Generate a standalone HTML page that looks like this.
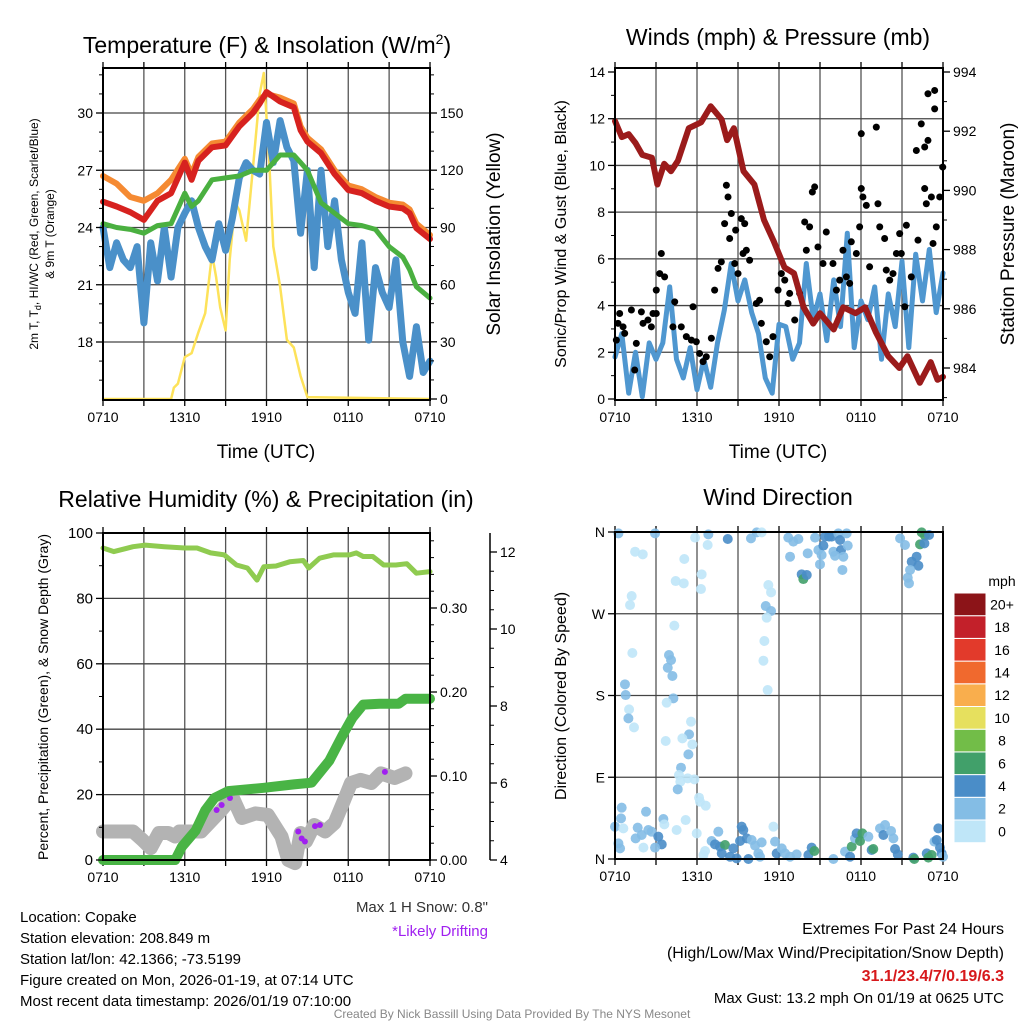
<!DOCTYPE html>
<html><head><meta charset="utf-8"><style>
body{margin:0;background:#fff;}
svg{display:block;font-family:"Liberation Sans",Arial,sans-serif;}
</style></head><body>
<svg id="root" width="1024" height="1024" viewBox="0 0 1024 1024">
<rect width="1024" height="1024" fill="#fff"/>
<g id="g1"></g>
<g id="g2"></g>
<g id="g3"></g>
<g id="g4"></g>
<text x="267" y="53" font-size="23" text-anchor="middle">Temperature (F) &amp; Insolation (W/m<tspan font-size="14" dy="-9">2</tspan><tspan dy="9">)</tspan></text>
<text x="778" y="45" font-size="23" text-anchor="middle">Winds (mph) &amp; Pressure (mb)</text>
<text x="266" y="507" font-size="23" text-anchor="middle">Relative Humidity (%) &amp; Precipitation (in)</text>
<text x="778" y="505" font-size="23" text-anchor="middle">Wind Direction</text>
<g font-size="15">
<text x="20" y="922">Location: Copake</text>
<text x="20" y="943">Station elevation: 208.849 m</text>
<text x="20" y="964">Station lat/lon: 42.1366; -73.5199</text>
<text x="20" y="985">Figure created on Mon, 2026-01-19, at 07:14 UTC</text>
<text x="20" y="1006">Most recent data timestamp: 2026/01/19 07:10:00</text>
</g>
<text x="488" y="912" font-size="15" text-anchor="end" fill="#333">Max 1 H Snow: 0.8"</text>
<text x="488" y="936" font-size="15" text-anchor="end" fill="#a020f0">*Likely Drifting</text>
<g font-size="16" text-anchor="end">
<text x="1004" y="934">Extremes For Past 24 Hours</text>
<text x="1004" y="958">(High/Low/Max Wind/Precipitation/Snow Depth)</text>
<text x="1004" y="981" fill="#d7191c" font-weight="bold">31.1/23.4/7/0.19/6.3</text>
<text x="1004" y="1003" font-size="15">Max Gust: 13.2 mph On 01/19 at 0625 UTC</text>
</g>
<text x="512" y="1018" font-size="12" text-anchor="middle" fill="#888">Created By Nick Bassill Using Data Provided By The NYS Mesonet</text>
</svg>
<script>
// ---------- data ----------
const timeLabels=["0710","1310","1910","0110","0710"];
const tHalf=[0,0.5,1,1.5,2,2.5,3,3.5,4,4.5,5,5.5,6,6.5,7,7.5,8,8.5,9,9.5,10,10.5,11,11.5,12,12.5,13,13.5,14,14.5,15,15.5,16,16.5,17,17.5,18,18.5,19,19.5,20,20.5,21,21.5,22,22.5,23,23.5,24];
const tHour=[0,1,2,3,4,5,6,6.5,7,8,9,10,11,11.5,12,13,14,14.5,15,16,17,18,19,20,21,22,22.5,23,24];
const tempRed=[25.35,25.1,24.8,24.4,25.4,25.8,27.4,26.5,27.5,28.2,28.3,29.3,30.0,30.5,31.1,30.6,30.3,29.1,28.5,27.9,26.8,25.96,25.8,25.4,25.1,25.0,24.75,23.97,23.4];
const tempOrange=[26.7,26.3,25.6,25.4,25.8,26.5,27.6,26.8,27.7,28.4,28.5,29.5,30.2,30.7,31.0,30.8,30.5,29.3,28.7,28.1,27.0,26.2,26.0,25.6,25.3,25.2,24.95,24.2,23.6];
const tempGreen=[24.2,24.0,23.9,23.7,24.1,24.2,25.8,25.1,25.4,26.5,26.6,26.7,27.0,27.0,27.0,27.8,27.8,27.4,27.0,25.3,24.75,24.2,24.1,23.9,23.0,22.45,21.8,20.9,20.3];
const tempBlue=[24.0,21.9,23.2,22.3,21.9,23.0,19.0,23.2,21.2,24.0,21.4,24.0,24.75,25.4,24.0,23.0,22.3,24.2,22.8,24.5,26.6,27.4,27.0,26.8,29.5,27.4,29.6,28.2,27.5,23.7,27.0,21.9,27.0,23.0,25.4,22.3,20.6,19.5,23.2,18.1,21.9,20.6,19.8,22.3,18.0,16.2,18.8,16.4,17.0];
const insolT=[0,5,5.2,5.5,6,6.5,7,7.5,8,8.3,8.6,9,9.3,9.7,10,10.5,11,11.5,11.8,12.2,12.5,13,13.5,14,14.5,15,24];
const insolV=[0,0,6,8,22,24,35,45,76,64,48,36,73,103,99,83,121,160,171,125,80,59,31,27,12,1,0];
const tempTicks=[18,21,24,27,30];
const insolTicks=[0,30,60,90,120,150];

const pressT=[0,0.5,1,1.5,2,2.7,3.1,3.6,4.1,4.6,5.4,6.3,7.0,7.8,8.2,8.7,9.4,10.2,10.9,11.6,12.4,13.1,13.8,14.5,15.0,16.0,16.7,17.6,18.3,19.1,20.0,20.8,21.4,22.3,23.1,23.6,24];
const pressV=[992.34,991.8,991.9,991.6,991.2,991.1,990.2,990.9,990.65,991.0,992.1,992.3,992.84,992.4,991.7,992.1,990.65,990.2,989.0,988.3,987.4,987.2,986.05,985.5,985.85,985.3,986.05,985.85,986.05,985.2,984.4,984.0,984.4,983.5,984.2,983.6,983.7];
const windSonic=[1.8,2.8,0.25,2.0,0.1,2.4,1.7,2.4,4.8,1.7,0.9,2.2,0.4,1.7,0.5,2.4,3.8,5.8,4.2,5.1,3.7,2.8,0.9,0.25,3.2,3.1,1.7,2.4,5.8,3.4,4.5,2.5,5.1,3.1,7.1,2.2,4.2,3.4,4.8,1.7,4.5,3.1,5.9,2.2,6.2,4.2,6.4,3.7,5.4];
const gustT=[0.10,0.22,0.34,0.59,0.71,1.20,1.56,1.44,1.93,2.05,2.41,2.66,2.78,3.02,3.39,3.27,3.63,3.02,4.37,4.24,4.85,5.22,5.71,5.59,5.95,6.19,6.44,6.68,7.05,7.29,7.54,7.78,8.15,8.27,8.02,8.51,8.39,8.83,8.76,9.00,9.24,9.49,9.61,9.37,9.85,10.34,10.58,10.71,11.07,11.32,11.56,11.93,12.17,12.42,12.66,12.78,13.15,13.51,13.88,14.00,14.24,14.44,14.61,14.85,15.22,15.46,15.95,16.20,16.44,16.68,16.93,17.17,17.29,17.66,17.90,18.02,18.02,18.14,18.39,18.63,19.12,19.24,19.37,19.73,19.85,20.10,20.34,20.59,20.83,20.95,21.20,21.32,21.68,22.05,22.17,22.41,22.66,22.78,22.90,23.15,23.39,23.39,23.51,23.76,23.98,22.90,22.66,23.27];
const gustV=[2.52,3.24,3.66,3.09,2.81,3.81,2.38,1.24,3.73,3.24,3.38,3.09,3.66,3.66,6.23,5.37,5.23,4.66,4.16,3.09,3.09,2.67,3.95,2.52,2.45,1.95,1.60,1.81,2.60,4.66,5.59,5.87,9.15,8.65,7.51,7.94,6.87,7.23,5.80,5.37,7.72,7.51,6.37,6.23,5.94,4.09,4.23,3.24,2.45,1.81,2.67,4.66,5.37,5.09,4.09,4.52,3.38,4.52,7.58,6.37,7.37,8.86,9.08,6.51,5.80,7.15,5.80,4.66,5.09,6.37,5.23,4.95,6.73,6.23,7.37,11.36,9.01,8.65,8.29,5.66,11.64,8.36,7.37,6.87,5.52,5.09,5.37,6.23,7.08,6.23,3.95,7.44,5.23,10.64,6.80,11.78,9.01,8.36,11.07,8.65,13.21,12.42,7.37,8.65,9.93,13.07,10.79,6.66];
const windTicks=[0,2,4,6,8,10,12,14];
const pressTicks=[984,986,988,990,992,994];

const rhT=[0,0.8,2.2,3.1,4.5,6,6.9,7.9,8.9,9.8,10.6,11.3,11.8,12.7,13.7,14.7,15.1,15.9,16.9,18.1,18.6,19.1,19.8,20.6,21.5,22.3,23,24];
const rhV=[95.4,94.3,95.8,96.3,95.8,95.4,95.4,93.9,93.3,90.2,89.3,85.6,89.7,89.9,91.2,91.6,89.3,92.3,93.3,93.3,93.9,92.8,92.8,90.2,90.2,90.6,87.7,88.2];
const precipT=[0,5.3,5.8,6.8,7.5,8.2,9.2,11.8,14,15.3,16.6,17.6,18.3,19.1,20.3,21.7,22.2,24];
const precipV=[0,0,0.016,0.035,0.059,0.074,0.082,0.086,0.09,0.092,0.118,0.149,0.169,0.185,0.186,0.186,0.192,0.192];
const snowT=[0,2.2,2.9,3.5,4.1,4.8,5.3,5.6,6.5,7.2,8,8.7,9.5,10.2,11.2,12.1,13.1,13.6,14.1,14.5,14.9,15.5,16.3,17,17.7,18.2,18.9,19.7,20.4,21.4,22.2];
const snowV=[4.74,4.74,4.52,4.31,4.70,4.70,4.61,4.74,4.74,4.74,5.04,5.30,5.64,5.09,5.21,5.17,4.61,4.0,3.92,4.70,4.48,4.91,4.74,4.96,5.56,6.0,6.08,6.0,6.25,6.13,6.25];
const driftT=[8.34,8.71,9.32,14.33,14.58,14.82,15.56,15.92,20.69];
const driftV=[5.30,5.43,5.61,4.74,4.56,4.48,4.88,4.91,6.29];
const rhTicks=[0,20,40,60,80,100];
const precipTicks=[0,0.1,0.2,0.3];
const precipLabels=["0.00","0.10","0.20","0.30"];
const snowTicks=[4,6,8,10,12];

const dirT=[0.25,2.93,5.86,6.83,6.78,8.25,9.95,10.37,10.73,12.68,
13.05,13.42,12.81,13.66,13.78,14.03,14.1,14.64,14.88,15.0,
15.25,15.37,15.66,15.86,15.98,16.34,16.47,16.54,16.71,16.64,
16.95,17.03,15.12,16.1,20.86,21.22,21.71,22.07,22.2,21.59,
21.42,21.51,22.44,22.68,22.32,22.64,22.98,
1.47,2.03,5.07,4.44,5.03,6.34,6.29,1.22,1.10,11.22,
11.42,11.03,11.42,11.10,4.34,1.27,10.93,10.86,11.17,3.95,
4.10,3.86,4.20,0.73,0.78,4.27,3.78,1.03,0.98,1.39,
5.56,5.42,4.93,3.71,5.66,5.37,4.83,4.68,5.32,5.81,
4.78,4.59,6.15,6.22,6.64,
0.49,0.44,0.0,0.61,2.27,3.54,3.61,5.17,4.51,1.66,
1.95,2.44,2.68,1.51,2.08,0.25,0.37,3.17,3.42,2.93,
5.98,6.59,6.47,7.56,7.07,7.32,7.68,8.05,7.81,8.42,
8.66,9.27,9.39,9.64,9.15,8.90,9.76,10.0,10.25,10.49,
10.61,10.73,11.59,11.71,11.83,12.2,12.44,12.81,13.29,14.15,
14.39,14.59,15.98,16.83,17.2,17.32,17.56,17.68,17.93,18.1,
18.54,18.78,18.9,19.39,19.64,19.76,20.2,20.37,20.49,20.69,
21.83,21.9,22.81,22.93,23.17,23.37,23.54,23.66,23.78,23.9,
24.0];
const dirV=[358.5,358.5,353.8,357.4,345.7,352.3,353,359.6,359.6,353.8,
349.4,352.3,332.8,313.4,308.2,312.7,336.5,353.8,340.2,324.4,
345,354.9,354.9,354.9,338.3,358.5,351.2,340.2,332.8,318.2,
358.5,345,334.7,333.9,353,345.7,327.3,332.8,322.9,318.2,
309.7,303.5,359.6,356,346.4,347.5,356.7,
338.3,335.4,330.3,306,303.5,313.4,297.2,289.5,279.6,301.6,
293.6,278.5,273,265.7,256.9,226.8,240,218.3,186,224.6,
219,210.6,201.5,192.3,180.5,176.9,172.1,164.7,154.8,144.9,
151.2,137.2,132.8,129.9,126.2,115.2,100.5,92.5,88.8,87.7,
85.1,76.7,67.5,63.1,58.7,
56.5,44.7,35.6,33.7,52.1,44,38.1,42.9,31.9,34.5,
26.4,31.9,30.1,22.7,12.5,17.2,11.7,24.6,16.1,12.5,
28.2,8.8,4.4,30.1,19.8,16.1,13.6,15.4,6.2,2.5,
11.7,35.6,31.9,22.7,19.8,0.7,0,20.9,14.7,6.2,
2.5,18.3,35.6,19.1,6.2,11.7,6.2,2.5,5.1,4.4,
12.5,8.8,0,8.1,2.5,13.6,22.7,28.2,19.8,28.2,
24.6,9.9,11,33.7,26.4,37.4,30.8,22.7,11,5.1,
1.5,0,6.2,1.5,4.4,19.1,20.9,33.7,12.5,6.2,
2.5];
const dirSpeed=[3,3,1,3,1,5,3,3,1,3,
3,3,3,5,7,5,3,3,3,3,
5,5,5,5,3,3,5,5,3,3,
3,3,3,3,3,3,5,5,5,3,
3,3,7,7,7,5,5,
1,1,1,1,1,1,1,1,1,1,
1,3,3,1,1,1,1,1,1,3,
3,3,3,3,3,3,1,1,3,1,
1,3,1,1,1,3,3,1,1,1,
1,3,1,1,1,
3,3,3,1,3,3,1,1,1,3,
3,3,3,3,1,3,3,5,5,3,
1,1,1,3,3,5,5,7,5,5,
5,5,5,5,5,5,5,3,3,3,
3,3,1,3,5,3,3,3,3,5,
5,7,3,3,5,7,3,5,7,7,
3,5,7,3,5,3,3,3,5,5,
5,7,5,7,7,3,5,5,5,5,
3];
const dirLabels=["N","E","S","W","N"];
const cbarLabels=["0","2","4","6","8","10","12","14","16","18","20+"];
const cbarColors=["#bfe6f8","#84bde5","#4a8dc8","#41a06a","#72bd48","#e6e05e","#f9ae4d","#f0692e","#e23a2b","#c3202a","#8c1418"];

// ---------- helpers ----------
const NS="http://www.w3.org/2000/svg";
function mk(parent,tag,attrs){const e=document.createElementNS(NS,tag);for(const k in attrs)e.setAttribute(k,attrs[k]);parent.appendChild(e);return e;}
function lin(d0,d1,r0,r1){return v=>r0+(v-d0)/(d1-d0)*(r1-r0);}
function pathFrom(xs,ys,fx,fy){return xs.map((t,i)=>(i?"L":"M")+fx(t).toFixed(1)+","+fy(ys[i]).toFixed(1)).join("");}

function frame(g,L,T,R,B,hTicksY){
  const sx=lin(0,24,L,R);
  for(let h=3;h<24;h+=3){const l=mk(g,"line",{x1:sx(h),x2:sx(h),y1:T,y2:B,stroke:"#555","stroke-width":1.3});
  
  }
  hTicksY.forEach(y=>{const l=mk(g,"line",{x1:L,x2:R,y1:y,y2:y,stroke:"#444","stroke-width":1.3});
  
  });
  for(let h=0;h<=24;h+=3){const tk=mk(g,"line",{x1:sx(h),x2:sx(h),y1:B,y2:B+6,stroke:"#000","stroke-width":1.3});
  
  
  const tk2=mk(g,"line",{x1:sx(h),x2:sx(h),y1:T-6,y2:T,stroke:"#000","stroke-width":1.3});
  
  }
  timeLabels.forEach((s,i)=>{const t=mk(g,"text",{x:sx(i*6),y:B+22,"font-size":14,"text-anchor":"middle"});t.textContent=s;
  
  });
  return sx;
}
function border(g,L,T,R,B){const r=mk(g,"rect",{x:L,y:T,width:R-L,height:B-T,fill:"none",stroke:"#000","stroke-width":2});

}
function yAxis(g,x,ticks,labels,fy,side,size,minor){
  ticks.forEach((v,i)=>{const y=fy(v);
    const tk=mk(g,"line",{x1:side<0?x-7:x,x2:side<0?x:x+7,y1:y,y2:y,stroke:"#000","stroke-width":1.3});
    
    
    const t=mk(g,"text",{x:side<0?x-10:x+10,y:y+5,"font-size":size||14,"text-anchor":side<0?"end":"start"});t.textContent=labels?labels[i]:String(v);
    
    });
  (minor||[]).forEach(v=>{const y=fy(v);const tk=mk(g,"line",{x1:side<0?x-4:x,x2:side<0?x:x+4,y1:y,y2:y,stroke:"#000","stroke-width":1});
    
    });
}
function rotText(g,x,y,txt,size,name){const t=mk(g,"text",{x:0,y:0,"font-size":size,"text-anchor":"middle",transform:`translate(${x},${y}) rotate(-90)`});t.textContent=txt;

return t;}
function xTitle(g,x,y){const t=mk(g,"text",{x:x,y:y,"font-size":19,"text-anchor":"middle"});t.textContent="Time (UTC)";

}
function line(g,xs,ys,fx,fy,color,w,name){const p=mk(g,"path",{d:pathFrom(xs,ys,fx,fy),fill:"none",stroke:color,"stroke-width":w,"stroke-linejoin":"round","stroke-linecap":"round"});

}

// ---------- panel 1 ----------
(function(){
  const g=document.getElementById("g1");const L=103,T=68,R=430,B=400;
  const fy=lin(18,30,342,113),fi=lin(0,150,399,113);
  const sx=frame(g,L,T,R,B,tempTicks.map(fy));
  line(g,insolT,insolV,sx,fi,"#fde25a",2.5,"insolation-line");
  line(g,tHalf,tempBlue,sx,fy,"#4a90c9",7,"windchill-line");
  line(g,tHour,tempGreen,sx,fy,"#4ab040",5,"dewpoint-line");
  line(g,tHour,tempOrange,sx,fy,"#f58a32",6,"temp-9m-line");
  line(g,tHour,tempRed,sx,fy,"#d7221f",6,"temp-2m-line");
  border(g,L,T,R,B);
  yAxis(g,L,tempTicks,null,fy,-1,14,[16,17,19,20,22,23,25,26,28,29,31,32]);
  yAxis(g,R,insolTicks,null,fi,1,14,[10,20,40,50,70,80,100,110,130,140,160,170]);
  xTitle(g,266,458);
  rotText(g,38,234,"2m T, T",12,"left-axis-title-line1").innerHTML='2m T, T<tspan font-size="9" dy="3">d</tspan><tspan dy="-3">, HI/WC (Red, Green, Scarlet/Blue)</tspan>';
  rotText(g,54,234,"& 9m T (Orange)",12,"left-axis-title-line2");
  rotText(g,500,234,"Solar Insolation (Yellow)",19,"right-axis-title");
})();

// ---------- panel 2 ----------
(function(){
  const g=document.getElementById("g2");const L=615,T=68,R=943,B=400;
  const fy=lin(0,14,399,72),fp=lin(984,994,368,72);
  const sx=frame(g,L,T,R,B,[2,4,6,8,10,12].map(fy));
  line(g,tHalf,windSonic,sx,fy,"#4f97d0",5,"sonic-wind-line");
  gustT.forEach((t,i)=>{const c=mk(g,"circle",{cx:sx(t),cy:fy(gustV[i]),r:3.5,fill:"#000"});
    
    });
  line(g,pressT,pressV,sx,fp,"#9b1b1b",6,"pressure-line");
  border(g,L,T,R,B);
  yAxis(g,L,windTicks,null,fy,-1,14,[1,3,5,7,9,11,13]);
  yAxis(g,R,pressTicks,null,fp,1,14,[983,985,987,989,991,993]);
  xTitle(g,778,458);
  rotText(g,566,234,"Sonic/Prop Wind & Gust (Blue, Black)",16,"left-axis-title");
  rotText(g,1014,234,"Station Pressure (Maroon)",19,"right-axis-title");
})();

// ---------- panel 3 ----------
(function(){
  const g=document.getElementById("g3");const L=103,T=533,R=430,B=860;
  const fy=lin(0,100,860,533),fp=lin(0,0.1,860,776),fs=lin(4,6,860,783);
  const sx=frame(g,L,T,R,B,[20,40,60,80].map(fy));
  line(g,snowT,snowV,sx,fs,"#b3b3b3",14,"snow-depth-line");
  driftT.forEach((t,i)=>{const c=mk(g,"circle",{cx:sx(t),cy:fs(driftV[i]),r:3,fill:"#a020f0"});
    
    });
  line(g,precipT,precipV,sx,fp,"#49b445",10,"precipitation-line");
  line(g,rhT,rhV,sx,fy,"#8fcb50",5,"humidity-line");
  border(g,L,T,R,B);
  yAxis(g,L,rhTicks,null,fy,-1,15,[10,30,50,70,90]);
  yAxis(g,R,precipTicks,precipLabels,fp,1,14,[0.02,0.04,0.06,0.08,0.12,0.14,0.16,0.18,0.22,0.24,0.26,0.28,0.32,0.34,0.36,0.38]);
  const ax=mk(g,"line",{x1:490,x2:490,y1:533,y2:860,stroke:"#000","stroke-width":1.5});
  
  
  yAxis(g,490,snowTicks,null,fs,1,14,[4.5,5,5.5,6.5,7,7.5,8.5,9,9.5,10.5,11,11.5]);
  rotText(g,48,697,"Percent, Precipitation (Green), & Snow Depth (Gray)",14,"left-axis-title");
})();

// ---------- panel 4 ----------
(function(){
  const g=document.getElementById("g4");const L=615,T=532,R=943,B=859;
  const fd=lin(0,360,859,532);
  const sx=frame(g,L,T,R,B,[90,180,270].map(fd));
  function col(s){let i=Math.min(10,Math.floor(s/2));return cbarColors[i];}
  const n=Math.min(dirT.length,dirV.length,dirSpeed.length);
  for(let i=0;i<n;i++){const c=mk(g,"circle",{cx:sx(dirT[i]),cy:fd(dirV[i]),r:5,fill:col(dirSpeed[i]),"fill-opacity":0.9});
    
    }
  border(g,L,T,R,B);
  yAxis(g,L,[0,90,180,270,360],dirLabels,fd,-1,14,[]);
  rotText(g,566,696,"Direction (Colored By Speed)",16,"left-axis-title");
  const cb=mk(g,"g",{});
  
  
  const top=593,h=22.7;
  cbarColors.forEach((c,i)=>{const y=top+(10-i)*h;const r=mk(cb,"rect",{x:954,y:y,width:32,height:h,fill:c,stroke:"#fff","stroke-width":1});
    
    
    const t=mk(cb,"text",{x:1002,y:y+h/2+5,"font-size":14,"text-anchor":"middle"});t.textContent=cbarLabels[i];
    
    });
  const u=mk(cb,"text",{x:1002,y:586,"font-size":14,"text-anchor":"middle"});u.textContent="mph";
  
  
})();
</script>
</body></html>
